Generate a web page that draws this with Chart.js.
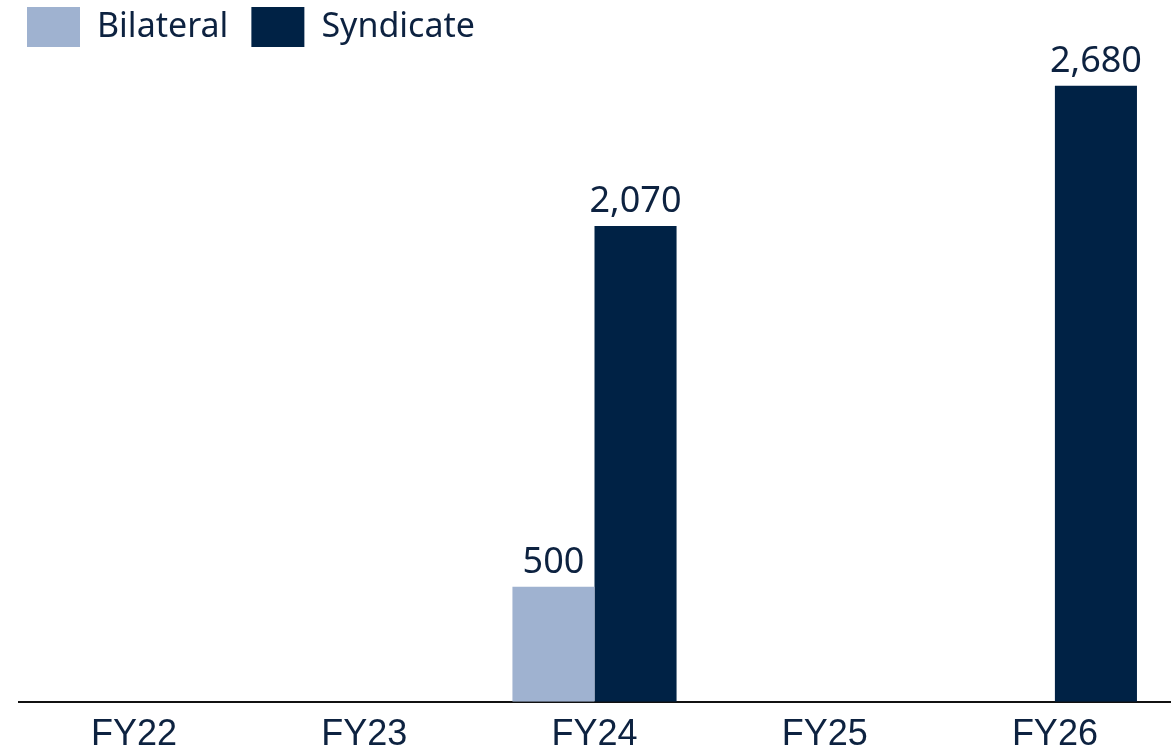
<!DOCTYPE html>
<html>
<head>
<meta charset="utf-8">
<script src="https://cdn.jsdelivr.net/npm/chart.js@4/dist/chart.umd.min.js"></script>
<style>
    html, body { margin: 0; padding: 0; background: #fff; }
    #wrap { width: 1174px; height: 750px; }
</style>
</head>
<body>
<div id="wrap"><canvas id="facilityChart" width="1174" height="750"></canvas></div>
<script>
// Chart data
const categories = ['FY22', 'FY23', 'FY24', 'FY25', 'FY26'];
const bilateral = [null, null, 500, null, null];
const syndicate = [null, null, 2070, null, 2680];

const textColor = '#0d2240';

// Draws the value above each bar
const valueLabels = {
    id: 'valueLabels',
    afterDatasetsDraw(chart) {
        const ctx = chart.ctx;
        ctx.save();
        ctx.font = '36px "Noto Sans"';
        ctx.fillStyle = textColor;
        ctx.textAlign = 'center';
        ctx.textBaseline = 'alphabetic';
        chart.data.datasets.forEach(function(ds, i) {
            chart.getDatasetMeta(i).data.forEach(function(bar, j) {
                const v = ds.data[j];
                if (v === null || v === undefined) return;
                ctx.fillText(v.toLocaleString('en-US'), bar.x, bar.y - 14);
            });
        });
        ctx.restore();
    }
};

const ctx = document.getElementById('facilityChart').getContext('2d');
new Chart(ctx, {
    type: 'bar',
    data: {
        labels: categories,
        datasets: [{
            label: 'Bilateral',
            data: bilateral,
            backgroundColor: '#9fb2d0',
            categoryPercentage: 0.713,
            barPercentage: 1
        }, {
            label: 'Syndicate',
            data: syndicate,
            backgroundColor: '#002245',
            categoryPercentage: 0.713,
            barPercentage: 1
        }]
    },
    options: {
        responsive: false,
        animation: false,
        layout: {
            padding: { left: 4, right: 4, top: -16, bottom: -11 }
        },
        plugins: {
            legend: {
                position: 'top',
                align: 'start',
                labels: {
                    boxWidth: 53,
                    boxHeight: 40,
                    padding: 23,
                    color: textColor,
                    font: { family: '"Noto Sans"', size: 34 }
                }
            },
            tooltip: { enabled: false }
        },
        scales: {
            x: {
                grid: { display: false },
                border: { display: true, color: '#111', width: 2 },
                ticks: {
                    color: textColor,
                    padding: 4,
                    font: { family: '"Liberation Sans Narrow", "Liberation Sans"', size: 36 }
                }
            },
            y: {
                display: true,
                min: 0,
                max: 2805,
                grid: { display: false },
                border: { display: false },
                ticks: { display: false },
                afterFit: function(scale) { scale.width = 15; }
            }
        }
    },
    plugins: [valueLabels]
});
</script>
</body>
</html>
